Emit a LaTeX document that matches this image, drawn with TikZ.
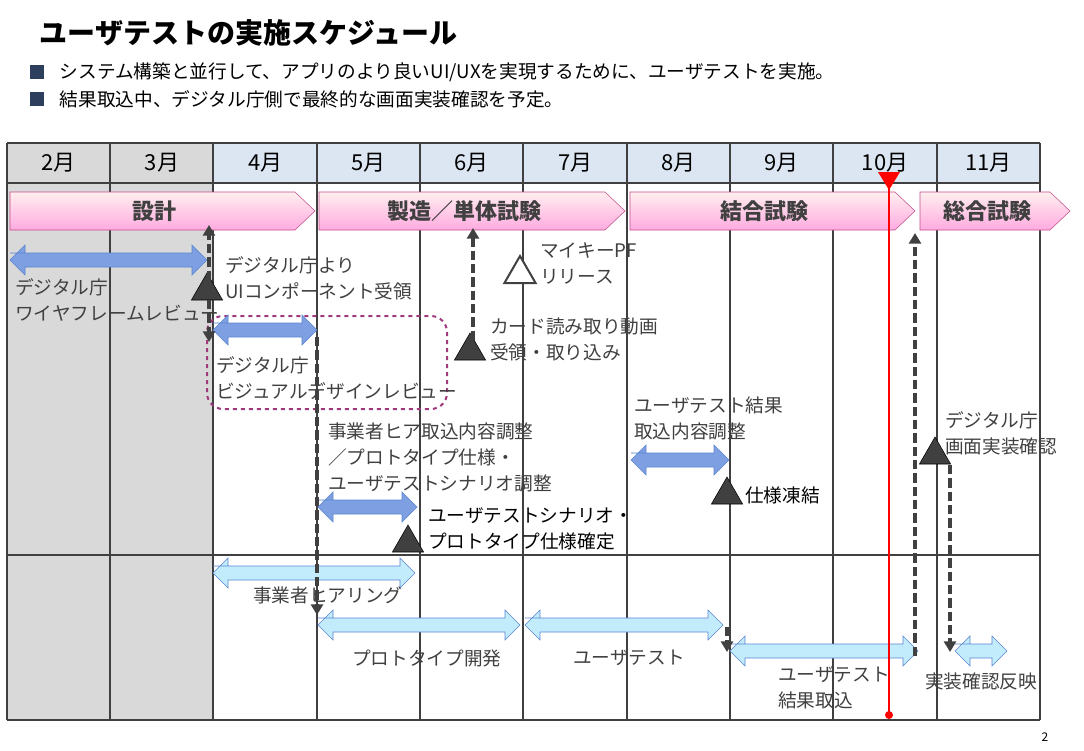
\documentclass[tikz,border=0pt]{standalone}
\usepackage{fontspec}
\setmainfont{Noto Sans CJK JP}
\usetikzlibrary{shapes.geometric,arrows.meta}
\definecolor{txtgray}{HTML}{404040}
\definecolor{gridgray}{HTML}{D9D9D9}
\definecolor{headblue}{HTML}{DCE6F2}
\definecolor{pinkline}{HTML}{C0508A}
\definecolor{arrowblue}{HTML}{7F9FE3}
\definecolor{lightblue}{HTML}{C2EBFC}
\definecolor{blueline}{HTML}{5B86CF}
\definecolor{purpledash}{HTML}{A0387E}
\definecolor{bulletblue}{HTML}{2E3F5E}
\newcommand{\dblarrow}[4]{% x1, x2, y, style
  \draw[#4] (#1,#3-7) -- (#2-15,#3-7) -- (#2-15,#3-15) -- (#2,#3) -- (#2-15,#3+15)
    -- (#2-15,#3+7) -- (#1+15,#3+7) -- (#1+15,#3+15) -- (#1,#3) -- (#1+15,#3-15)
    -- (#1+15,#3-7) -- cycle;}
\newcommand{\phasebox}[3]{% x1, x2, label
  \draw[phase] (#1,192) -- (#2-20,192) -- (#2,211) -- (#2-20,230) -- (#1,230) -- cycle;
  \node[font=\fontsize{16.5}{18}\selectfont\bfseries, text=txtgray] at ({(#1+#2)/2-8},211) {#3};}
\tikzset{
  x=0.75pt, y=-0.75pt,
  phase/.style={draw=pinkline, top color=pink!25, bottom color=magenta!30!pink!70},
  darkdbl/.style={draw=blueline, fill=arrowblue},
  lightdbl/.style={draw=blueline, fill=lightblue},
  lbl/.style={font=\fontsize{14}{19.5}\selectfont, text=txtgray, align=left, anchor=west, inner sep=0pt},
  mile/.style={regular polygon, regular polygon sides=3, draw=black, fill=txtgray, minimum size=27pt, inner sep=0pt},
  dashlink/.style={draw=txtgray, line width=3pt, dash pattern=on 7pt off 3pt, -{Triangle[length=8pt,width=9pt]}},
}
\begin{document}
\begin{tikzpicture}
\useasboundingbox (0,0) rectangle (1084,750);
% title
\node[anchor=west, font=\fontsize{21}{24}\selectfont\bfseries] at (35,33) {ユーザテストの実施スケジュール};
\fill[bulletblue] (30,65) rectangle (44,79);
\fill[bulletblue] (30,92) rectangle (44,106);
\node[anchor=west, font=\fontsize{14}{16}\selectfont] at (55,72) {システム構築と並行して、アプリのより良いUI/UXを実現するために、ユーザテストを実施。};
\node[anchor=west, font=\fontsize{14}{16}\selectfont] at (55,99) {結果取込中、デジタル庁側で最終的な画面実装確認を予定。};
% grid
\fill[gridgray] (7,143) rectangle (213,720);
\fill[headblue] (213,143) rectangle (1040,183);
\foreach \x in {7,110,213,317,420,523,627,730,833,937,1040}
  \draw[txtgray, line width=1pt] (\x,143) -- (\x,720);
\foreach \y in {143,183,555,720}
  \draw[txtgray, line width=1pt] (7,\y) -- (1040,\y);
\foreach \m [count=\i] in {2,3,4,5,6,7,8,9,10,11}
  \node[font=\fontsize{16.5}{18}\selectfont] (m\m) at ({7+103.3*(\i-0.5)},163) {\m 月};
% phases
\phasebox{10}{315}{設計}
\phasebox{319}{625}{製造／単体試験}
\phasebox{630}{915}{結合試験}
\phasebox{920}{1070}{総合試験}
% review box
\draw[purpledash, line width=1.5pt, dashed, rounded corners=12pt] (207,316) rectangle (447,409);
% blue arrows
\dblarrow{10}{207}{260}{darkdbl}
\dblarrow{213}{317}{330}{darkdbl}
\dblarrow{318}{417}{507}{darkdbl}
\dblarrow{631}{729}{460}{darkdbl}
\dblarrow{213}{415}{573}{lightdbl}
\dblarrow{318}{520}{625}{lightdbl}
\dblarrow{525}{723}{625}{lightdbl}
\dblarrow{730}{918}{651}{lightdbl}
\dblarrow{955}{1007}{651}{lightdbl}
% milestones
\node[mile] (uicomp) at (207,291) {};
\node[mile] (card) at (470,351) {};
\node[mile] (freeze) at (727,495) {};
\node[mile] (fix) at (408,543) {};
\node[mile] (implchk) at (935,455) {};
\node[mile, fill=white, draw=txtgray, line width=1.5pt] (mykey) at (520,274) {};
% links
\coordinate (d1) at (209,225);
\coordinate (d2) at (209,342);
\coordinate (c1) at (473,228);
\coordinate (s1) at (317,337);
\coordinate (s2) at (317,615);
\coordinate (t1) at (727,627);
\coordinate (t2) at (727,652);
\coordinate (r1) at (915,656);
\coordinate (r2) at (915,233);
\coordinate (k1) at (950,465);
\coordinate (k2) at (950,652);
\draw[dashlink] (209,280) -- (d1);
\draw[dashlink] (209,300) -- (d2);
\draw[dashlink] (473,340) -- (c1);
\draw[dashlink] (s1) -- (s2);
\draw[dashlink] (t1) -- (t2);
\draw[dashlink] (r1) -- (r2);
\draw[dashlink] (k1) -- (k2);
% today line
\coordinate (today) at (889,715);
\fill[red] (878,172) -- (900,172) -- (889,190) -- cycle;
\draw[red, line width=2pt] (889,180) -- (today);
\fill[red] (today) circle (4);
% labels
\node[lbl] (wf) at (15,300) {デジタル庁\\ワイヤフレームレビュー};
\node[lbl] (ui) at (225,278) {デジタル庁より\\UIコンポーネント受領};
\node[lbl] (pf) at (540,263) {マイキーPF\\リリース};
\node[lbl] (cd) at (490,339) {カード読み取り動画\\受領・取り込み};
\node[lbl] (vd) at (216,378) {デジタル庁\\ビジュアルデザインレビュー};
\node[lbl] (ur) at (634,418) {ユーザテスト結果\\取込内容調整};
\node[lbl] (hr) at (328,457) {事業者ヒア取込内容調整\\／プロトタイプ仕様・\\ユーザテストシナリオ調整};
\node[lbl] (gc) at (945,433) {デジタル庁\\画面実装確認};
\node[lbl, text=black] (fz) at (745,495) {仕様凍結};
\node[lbl, text=black] (sc) at (428,529) {ユーザテストシナリオ・\\プロトタイプ仕様確定};
\node[lbl] (hy) at (253,595) {事業者ヒアリング};
\node[lbl] (pd) at (352,658) {プロトタイプ開発};
\node[lbl] (ut) at (573,658) {ユーザテスト};
\node[lbl] (rt) at (778,688) {ユーザテスト\\結果取込};
\node[lbl] (im) at (925,681) {実装確認反映};
\node[font=\fontsize{9}{10}\selectfont] (pg) at (1045,737) {2};
\end{tikzpicture}
\end{document}
